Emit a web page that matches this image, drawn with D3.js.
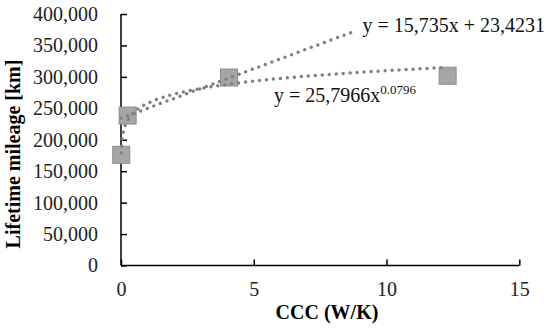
<!DOCTYPE html>
<html>
<head>
<meta charset="utf-8">
<script src="https://cdn.jsdelivr.net/npm/d3@7"></script>
<style>
  body { margin: 0; background: #fff; }
  text { font-family: "Liberation Serif", "Times New Roman", serif; }
</style>
</head>
<body>
<div id="chart"></div>
<script>
// measured points: CCC (W/K) vs lifetime mileage (km)
const ccc = [0.01, 0.25, 4.07, 12.3];
const mileage = [176000, 238500, 299000, 301800];

// trendline fits as shown in the chart (and their printed labels)
const linFit = {slope: 15735, intercept: 234231, xEnd: 8.86};
const powFit = {a: 257966, b: 0.0796};
const linLabel = "y = 15,735x + 23,4231";
const powLabel = ["y = 25,7966x", "0.0796"];

const xTicks = [0, 5, 10, 15];
const yTicks = [0, 50000, 100000, 150000, 200000, 250000, 300000, 350000, 400000];

const W = 550, H = 329;

const svg = d3.select("#chart").append("svg")
    .attr("width", W)
    .attr("height", H);

const x = d3.scaleLinear().domain([0, 15]).range([121, 519.3]);
const y = d3.scaleLinear().domain([0, 400000]).range([265.5, 14]);

// axes
const yAxis = svg.append("g")
    .attr("transform", "translate(" + x(0) + ",0)")
    .call(d3.axisLeft(y).tickValues(yTicks).tickSize(-6).tickPadding(23)
      .tickFormat(d3.format(",")));

const xAxis = svg.append("g")
    .attr("transform", "translate(0," + y(0) + ")")
    .call(d3.axisBottom(x).tickValues(xTicks).tickSize(-6).tickPadding(16)
      .tickFormat(d3.format("d")));

[xAxis, yAxis].forEach(g => {
  g.select(".domain").attr("stroke", "#000").attr("stroke-width", 1.5);
  g.selectAll(".tick line").attr("stroke", "#000").attr("stroke-width", 1.5);
  g.selectAll(".tick text")
      .attr("fill", "#222")
      .style("font-size", "20px")
      .style("font-family", "'Liberation Serif', serif");
});
// domain path without outer ticks
yAxis.select(".domain").attr("d", "M0," + y(0) + "V" + y(400000));
xAxis.select(".domain").attr("d", "M" + x(0) + ",0H" + x(15));

// markers
const pts = ccc.map((c, i) => ({c: c, m: mileage[i]}));
const sq = 17;
svg.selectAll(".pt")
  .data(pts)
  .enter().append("rect")
    .attr("class", "pt")
    .attr("x", d => x(d.c) - sq / 2)
    .attr("y", d => y(d.m) - sq / 2)
    .attr("width", sq)
    .attr("height", sq)
    .attr("fill", "#a6a6a6")
    .attr("stroke", "#8c8c8c")
    .attr("stroke-width", 1);

// trendlines
const line = d3.line().x(d => x(d[0])).y(d => y(d[1]));

const linPts = [0, linFit.xEnd].map(v => [v, linFit.slope * v + linFit.intercept]);
const powPts = d3.range(0, 201).map(i => {
  const v = ccc[0] * Math.pow(ccc[3] / ccc[0], i / 200);
  return [v, powFit.a * Math.pow(v, powFit.b)];
});

[linPts, powPts].forEach(p => {
  svg.append("path")
      .attr("d", line(p))
      .attr("fill", "none")
      .attr("stroke", "#808080")
      .attr("stroke-width", 3.5)
      .attr("stroke-linecap", "round")
      .attr("stroke-dasharray", "0 7");
});

// equation labels
svg.append("text")
    .attr("x", 362.5)
    .attr("y", 32)
    .style("font-size", "20px")
    .attr("fill", "#111")
    .text(linLabel);

const pl = svg.append("text")
    .attr("x", 274)
    .attr("y", 102)
    .style("font-size", "20px")
    .attr("fill", "#111");
pl.append("tspan").text(powLabel[0]);
pl.append("tspan").attr("dy", -8).style("font-size", "13px").text(powLabel[1]);

// axis titles
svg.append("text")
    .attr("x", 327)
    .attr("y", 319)
    .attr("text-anchor", "middle")
    .style("font-size", "20px")
    .style("font-weight", "bold")
    .text("CCC (W/K)");

svg.append("text")
    .attr("transform", "translate(20,154) rotate(-90)")
    .attr("text-anchor", "middle")
    .style("font-size", "20px")
    .style("font-weight", "bold")
    .text("Lifetime mileage [km]");
</script>
</body>
</html>
